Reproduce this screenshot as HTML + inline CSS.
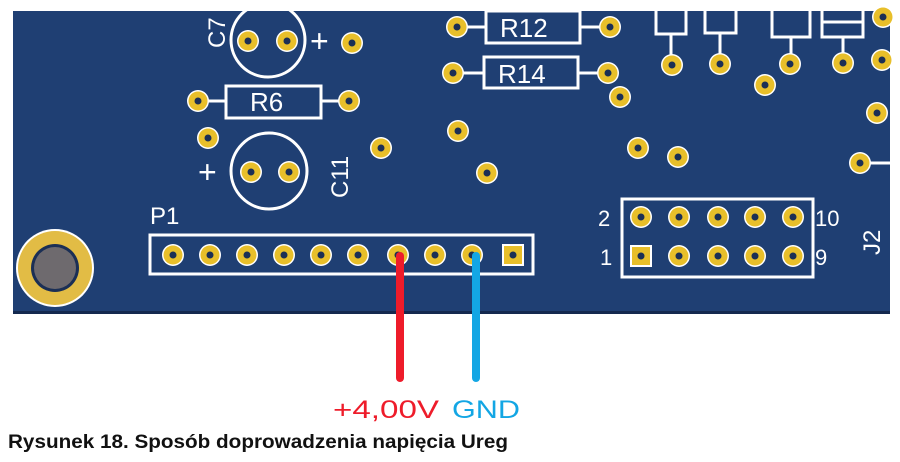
<!DOCTYPE html>
<html><head><meta charset="utf-8"><style>
html,body{margin:0;padding:0;background:#fff;width:900px;height:462px;overflow:hidden}
svg{display:block}
</style></head><body>
<svg width="900" height="462" viewBox="0 0 900 462" xmlns="http://www.w3.org/2000/svg" font-family="Liberation Sans, sans-serif">
<defs>
<g id="pad"><circle r="11" fill="#fff"/><circle r="9.5" fill="#e8bf2a"/><circle r="3.5" fill="#1b2f55"/></g>
</defs>
<rect x="13" y="11" width="877" height="303" fill="#1f3f73"/>
<rect x="13" y="311" width="877" height="3" fill="#14294f"/>
<g fill="none" stroke="#fff" stroke-width="3">
<circle cx="268" cy="40" r="37"/>
<rect x="226" y="86" width="95" height="32"/>
<line x1="208" y1="101" x2="226" y2="101"/><line x1="321" y1="101" x2="340" y2="101"/>
<circle cx="269" cy="171" r="38"/>
<rect x="486" y="11" width="94" height="32"/>
<line x1="466" y1="27" x2="486" y2="27"/><line x1="580" y1="27" x2="600" y2="27"/>
<rect x="484" y="57" width="94" height="31"/>
<line x1="462" y1="73" x2="484" y2="73"/><line x1="578" y1="73" x2="598" y2="73"/>
<rect x="656" y="9" width="30" height="25"/><line x1="671" y1="34" x2="671" y2="55"/>
<rect x="705" y="9" width="31" height="24"/><line x1="720" y1="33" x2="720" y2="55"/>
<rect x="772" y="9" width="38" height="28"/><line x1="791" y1="37" x2="791" y2="64"/>
<rect x="822" y="9" width="41" height="28"/><line x1="822" y1="22" x2="863" y2="22"/><line x1="843" y1="37" x2="843" y2="62"/>
<line x1="870" y1="163" x2="890" y2="163"/>
<rect x="150" y="235" width="383" height="39"/>
<rect x="622" y="199" width="191" height="78"/>
</g>
<g font-size="26" fill="#fff">
<text x="250" y="111">R6</text>
<text x="500" y="37">R12</text>
<text x="498" y="83">R14</text>
<text x="310" y="52" font-size="32">+</text>
<text x="198" y="183" font-size="32">+</text>
<text x="150" y="224" font-size="24">P1</text>
<text x="598" y="226" font-size="22">2</text>
<text x="815" y="226" font-size="22">10</text>
<text x="600" y="265" font-size="22">1</text>
<text x="815" y="265" font-size="22">9</text>
<text transform="translate(225,48) rotate(-90)" font-size="24">C7</text>
<text transform="translate(348,198) rotate(-90)" font-size="24">C11</text>
<text transform="translate(880,255) rotate(-90)" font-size="24">J2</text>
</g>
<circle cx="55" cy="268" r="39" fill="#fff"/>
<circle cx="55" cy="268" r="37" fill="#e2bc45"/>
<circle cx="55" cy="268" r="24" fill="#1b2f55"/>
<circle cx="55" cy="268" r="21" fill="#6e6a6e"/>
<g>
<use href="#pad" x="248" y="41"/><use href="#pad" x="287" y="41"/><use href="#pad" x="352" y="43"/>
<use href="#pad" x="198" y="101"/><use href="#pad" x="349" y="101"/>
<use href="#pad" x="208" y="138"/><use href="#pad" x="251" y="172"/><use href="#pad" x="289" y="172"/>
<use href="#pad" x="381" y="148"/>
<use href="#pad" x="457" y="27"/><use href="#pad" x="610" y="27"/>
<use href="#pad" x="453" y="73"/><use href="#pad" x="608" y="73"/><use href="#pad" x="620" y="97"/>
<use href="#pad" x="458" y="131"/><use href="#pad" x="487" y="173"/>
<use href="#pad" x="672" y="65"/><use href="#pad" x="720" y="64"/><use href="#pad" x="790" y="64"/><use href="#pad" x="843" y="63"/>
<use href="#pad" x="765" y="85"/><use href="#pad" x="883" y="17"/><use href="#pad" x="882" y="60"/><use href="#pad" x="877" y="113"/><use href="#pad" x="860" y="163"/>
<use href="#pad" x="638" y="148"/><use href="#pad" x="678" y="157"/>
<use href="#pad" x="173" y="255"/><use href="#pad" x="210" y="255"/><use href="#pad" x="247" y="255"/><use href="#pad" x="284" y="255"/><use href="#pad" x="321" y="255"/><use href="#pad" x="358" y="255"/><use href="#pad" x="398" y="255"/><use href="#pad" x="435" y="255"/><use href="#pad" x="472" y="255"/>
<use href="#pad" x="641" y="217"/><use href="#pad" x="679" y="217"/><use href="#pad" x="718" y="217"/><use href="#pad" x="755" y="217"/><use href="#pad" x="793" y="217"/>
<use href="#pad" x="679" y="256"/><use href="#pad" x="718" y="256"/><use href="#pad" x="755" y="256"/><use href="#pad" x="793" y="256"/>
</g>
<rect x="502" y="244" width="22" height="22" fill="#fff"/><rect x="504" y="246" width="18" height="18" fill="#e8bf2a"/><circle cx="513" cy="255" r="3.5" fill="#1b2f55"/>
<rect x="630" y="245" width="22" height="22" fill="#fff"/><rect x="632" y="247" width="18" height="18" fill="#e8bf2a"/><circle cx="641" cy="256" r="3.5" fill="#1b2f55"/>
<line x1="400" y1="256" x2="400" y2="378" stroke="#ee1c2a" stroke-width="8" stroke-linecap="round"/>
<line x1="476" y1="256" x2="476" y2="378" stroke="#13a6e4" stroke-width="8" stroke-linecap="round"/>
<text x="333" y="418" font-size="25" fill="#ee1c2a" textLength="106" lengthAdjust="spacingAndGlyphs">+4,00V</text>
<text x="452" y="418" font-size="25" fill="#13a6e4" textLength="68" lengthAdjust="spacingAndGlyphs">GND</text>
<text x="8" y="448" font-size="19" font-weight="bold" fill="#111" textLength="500" lengthAdjust="spacingAndGlyphs">Rysunek 18. Sposób doprowadzenia napięcia Ureg</text>
</svg>
</body></html>
